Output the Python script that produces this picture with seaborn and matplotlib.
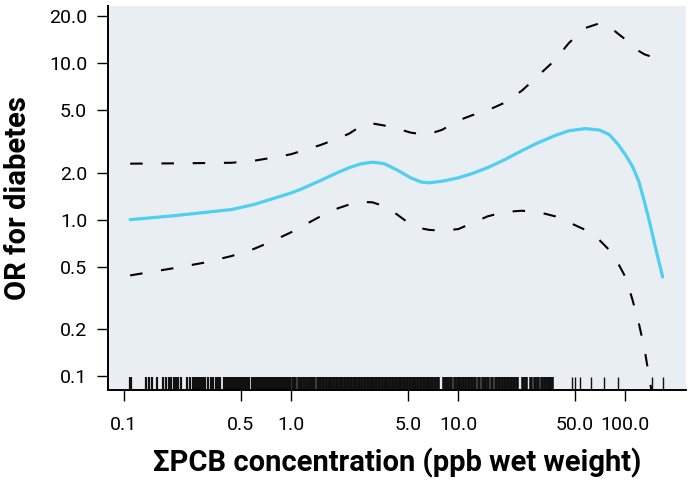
import pandas as pd
import seaborn as sns
import matplotlib.pyplot as plt
import matplotlib.ticker as mticker

# fitted OR curve and confidence band
pcb_x = [0.109, 0.2, 0.3, 0.44, 0.6, 0.775, 1.0, 1.17, 1.5, 1.9, 2.23, 2.6, 3.07, 3.6,
         4.3, 5.2, 6.0, 6.7, 8.0, 10.0, 12.1, 15.0, 19.0, 24.0, 30.0, 38.0, 46.0, 57.6,
         70.0, 80.0, 90.0, 100.0, 110.0, 120.0, 130.0, 140.0, 150.0, 167.0]
or_fit = [1.0, 1.06, 1.11, 1.16, 1.25, 1.36, 1.48, 1.58, 1.78, 2.0, 2.15, 2.27, 2.33, 2.28,
          2.08, 1.85, 1.74, 1.72, 1.76, 1.85, 1.97, 2.15, 2.42, 2.76, 3.1, 3.45, 3.7, 3.82,
          3.74, 3.5, 3.05, 2.6, 2.2, 1.77, 1.3, 0.95, 0.69, 0.43]
or_upper = [2.28, 2.29, 2.3, 2.31, 2.38, 2.49, 2.62, 2.76, 3.0, 3.3, 3.55, 3.95, 4.12, 4.0,
            3.82, 3.6, 3.52, 3.53, 3.75, 4.3, 4.65, 5.0, 5.6, 6.67, 8.3, 10.5, 13.5, 16.8,
            18.0, 17.2, 15.5, 14.2, 13.0, 12.0, 11.4, 11.1, 11.2, 11.6]
low_x = [0.109, 0.2, 0.3, 0.44, 0.6, 0.775, 1.0, 1.17, 1.5, 1.9, 2.23, 2.6, 3.07, 3.6,
         4.3, 5.2, 6.0, 6.7, 8.0, 10.0, 12.1, 15.0, 19.0, 24.0, 30.0, 38.0, 46.0, 57.6,
         70.0, 80.0, 90.0, 100.0, 110.0, 120.0, 130.0, 140.0, 150.0]
or_lower = [0.44, 0.49, 0.53, 0.585, 0.65, 0.73, 0.83, 0.91, 1.05, 1.18, 1.25, 1.3, 1.29, 1.22,
            1.08, 0.93, 0.88, 0.86, 0.85, 0.87, 0.95, 1.05, 1.12, 1.14, 1.12, 1.05, 0.96, 0.86,
            0.74, 0.64, 0.53, 0.43, 0.31, 0.22, 0.15, 0.093, 0.06]

# rug of observed concentrations
rug_low = [0.109, 0.111, 0.135, 0.141, 0.147, 0.157, 0.171, 0.178, 0.186, 0.191, 0.199,
           0.204, 0.210, 0.219, 0.238, 0.248, 0.258, 0.265, 0.273, 0.280, 0.288, 0.296,
           0.304, 0.317, 0.330, 0.339, 0.354, 0.364, 0.374, 0.395, 0.406, 0.417, 0.428,
           0.440, 0.452, 0.465, 0.478, 0.491, 0.505, 0.519, 0.533, 0.548, 0.563, 0.587,
           0.603, 0.620, 0.637, 0.655, 0.673, 0.692, 0.711, 0.731, 0.751, 0.772, 0.793,
           0.815, 0.838, 0.861, 0.885, 0.909, 0.935, 0.961, 0.987]
rug_dense = [1.02, 1.06, 1.11, 1.15, 1.19, 1.24, 1.29, 1.33, 1.38, 1.44, 1.49, 1.55, 1.61,
             1.68, 1.74, 1.81, 1.88, 1.95, 2.03, 2.11, 2.19, 2.28, 2.37, 2.46, 2.56, 2.66,
             2.77, 2.88, 2.99, 3.11, 3.23, 3.36, 3.49, 3.63, 3.77, 3.92, 4.07, 4.23, 4.40,
             4.57, 4.75, 4.94, 5.13, 5.33, 5.54, 5.76, 5.99, 6.22, 6.47, 6.72, 6.98, 7.26,
             7.55, 8.2, 8.4, 8.7, 9.1, 9.5, 9.9, 10.3, 10.7, 11.2, 11.6, 12.1, 12.6, 13.4,
             14.0, 14.5, 15.1, 16.0, 16.8, 17.5, 18.2, 19.0, 19.9, 20.7, 21.5, 22.4, 24.5,
             25.6, 27.3, 28.8, 30.2, 31.5, 32.9, 34.3, 35.6, 36.5]
rug_high = [48.0, 50.0, 53.5, 62.2, 74.4, 90.2, 144.0, 168.0]

x_ticks = [0.1, 0.5, 1.0, 5.0, 10.0, 50.0, 100.0]
x_labels = ["0.1", "0.5", "1.0", "5.0", "10.0", "50.0", "100.0"]
y_ticks = [0.1, 0.2, 0.5, 1.0, 2.0, 5.0, 10.0, 20.0]
y_labels = ["0.1", "0.2", "0.5", "1.0", "2.0", "5.0", "10.0", "20.0"]

sns.set_style("ticks")
plt.rcParams['font.family'] = ['Roboto', 'DejaVu Sans']
plt.rcParams['text.color'] = "black"
plt.rcParams['axes.labelcolor'] = "black"
plt.rcParams['xtick.color'] = "black"
plt.rcParams['ytick.color'] = "black"

fig = plt.figure(figsize=(6.9, 4.86), dpi=100)
ax = fig.add_axes([0.1565, 0.1975, 0.8375, 0.79])
ax.set_facecolor("#e9eef3")
ax.set_xscale("log")
ax.set_yscale("log")

fit = pd.DataFrame({"x": pcb_x, "fit": or_fit, "upper": or_upper})
low = pd.DataFrame({"x": low_x, "lower": or_lower})

sns.lineplot(data=fit, x="x", y="upper", ax=ax, color="black", lw=1.5,
             linestyle=(0, (6, 9)), sort=False)
sns.lineplot(data=low, x="x", y="lower", ax=ax, color="black", lw=1.5,
             linestyle=(0, (6, 9)), sort=False)
sns.lineplot(data=fit, x="x", y="fit", ax=ax, color="#4fd0f0", lw=2.3, sort=False)

sns.rugplot(x=rug_low, ax=ax, height=0.034, color="#111111", linewidth=1.6)
sns.rugplot(x=rug_dense, ax=ax, height=0.034, color="#111111", linewidth=2.6)
sns.rugplot(x=rug_high, ax=ax, height=0.034, color="#111111", linewidth=1.0)

ax.set_xlim(0.0803, 230)
ax.set_ylim(0.0814, 23.2)
ax.xaxis.set_minor_locator(mticker.NullLocator())
ax.yaxis.set_minor_locator(mticker.NullLocator())
ax.set_xticks(x_ticks)
ax.set_xticklabels(x_labels)
ax.set_yticks(y_ticks)
ax.set_yticklabels(y_labels)
ax.tick_params(axis="both", length=8, width=1, color="black", labelsize=14,
               labelcolor="black")
ax.tick_params(axis="x", pad=11)
ax.tick_params(axis="y", pad=7)

sns.despine(ax=ax)
for s in ["left", "bottom"]:
    ax.spines[s].set_linewidth(1.4)
    ax.spines[s].set_color("black")

ax.set_xlabel("\u03a3PCB concentration (ppb wet weight)", fontsize=21, fontweight="bold",
              labelpad=10)
ax.set_ylabel("OR for diabetes", fontsize=21, fontweight="bold", labelpad=12)

fig.savefig("out.png", dpi=100)
